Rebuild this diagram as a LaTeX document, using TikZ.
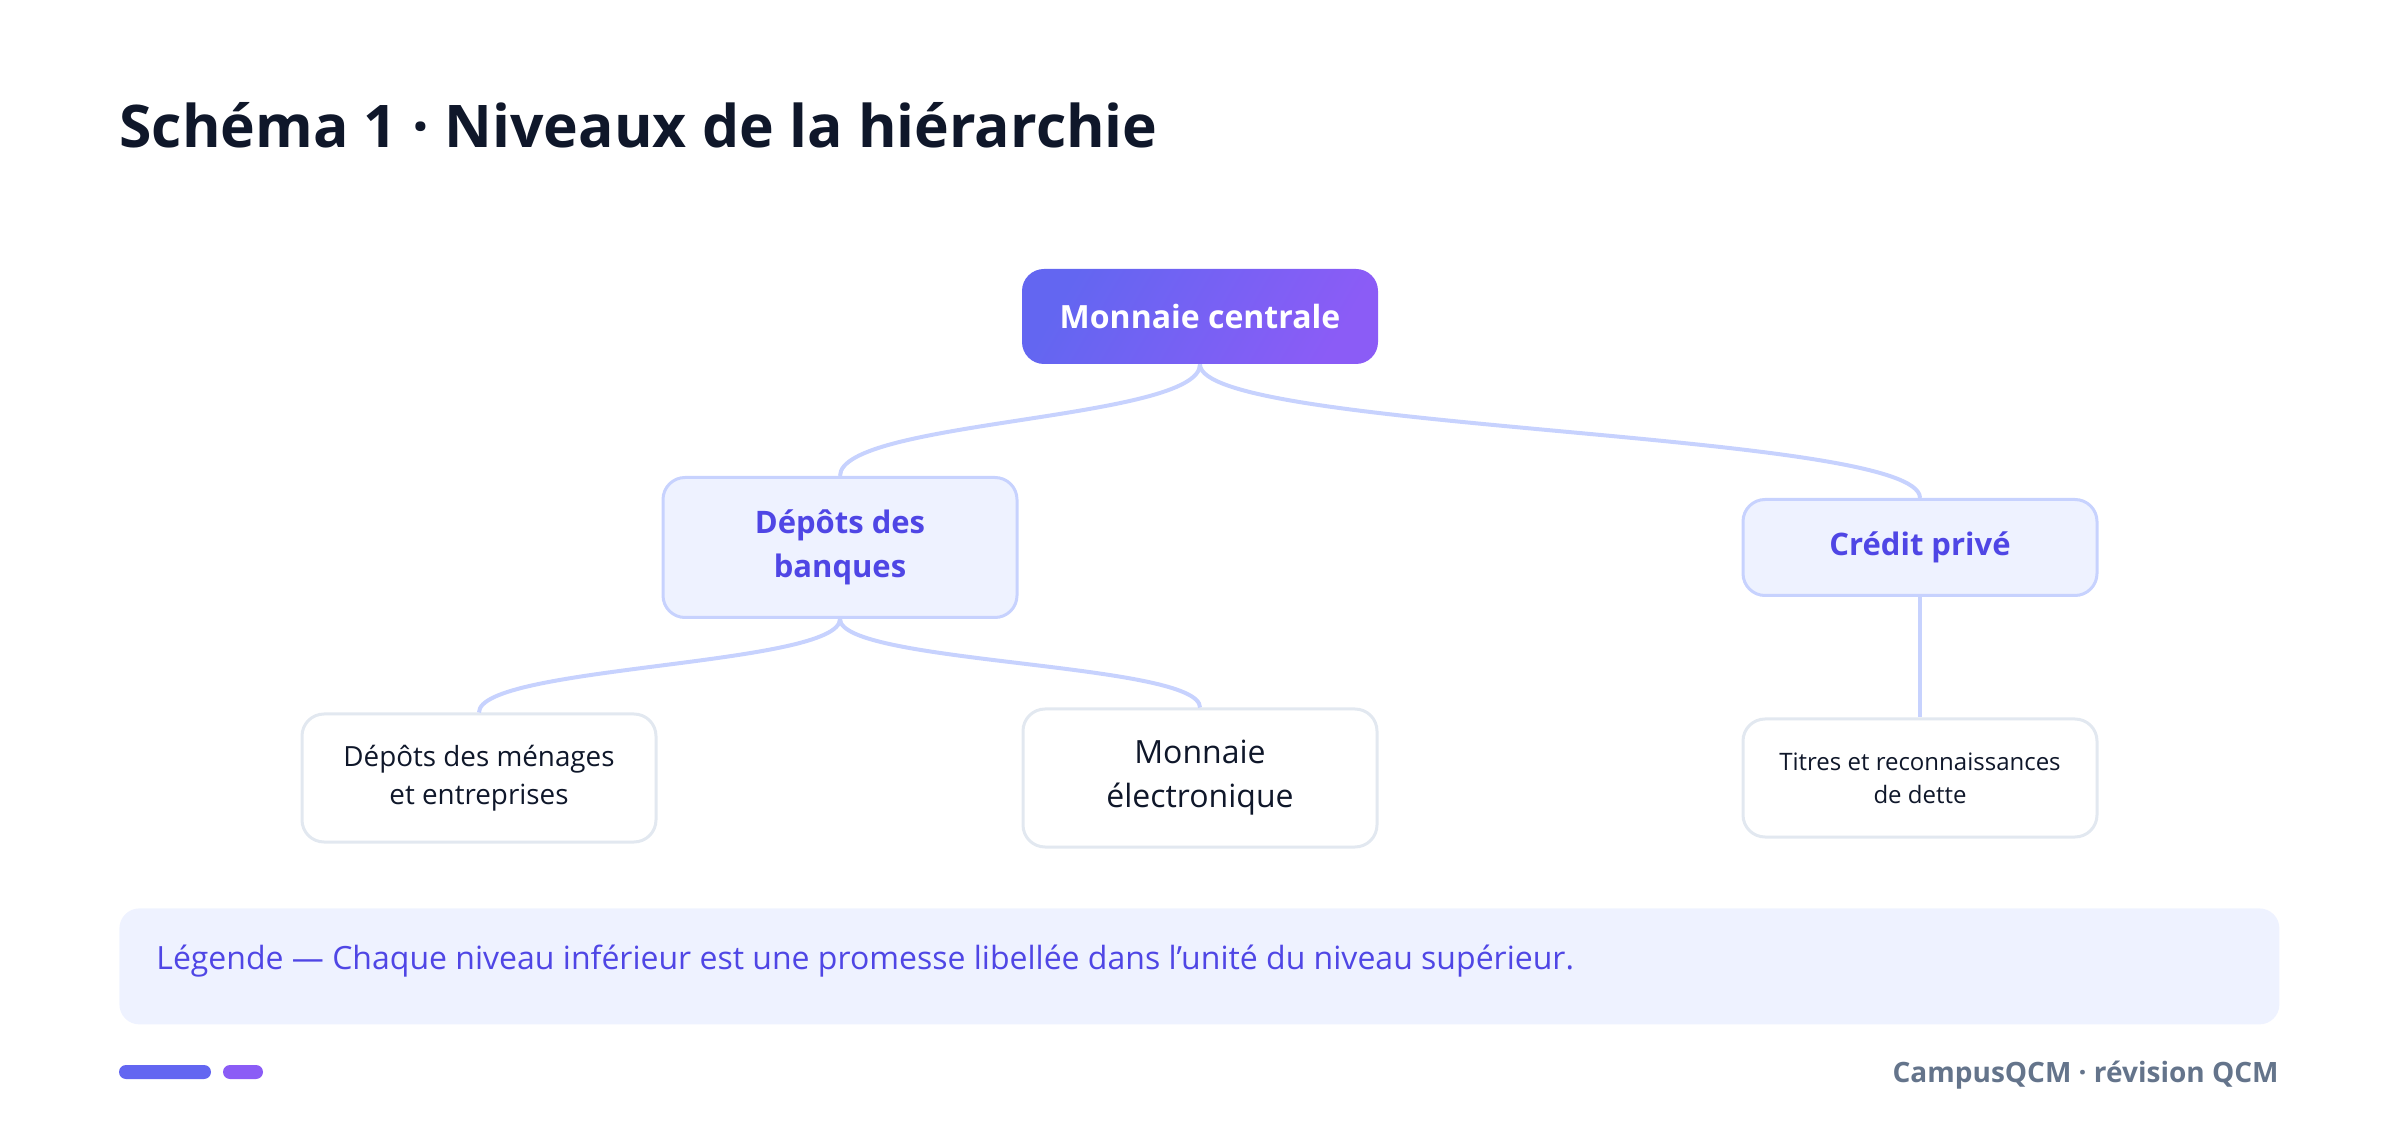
\documentclass[tikz,border=0pt]{standalone}
\usepackage{fontspec}
\setmainfont{Open Sans}
\definecolor{ink}{HTML}{0F172A}
\definecolor{indigo}{HTML}{4F46E5}
\definecolor{gradA}{HTML}{6366F1}
\definecolor{gradB}{HTML}{8B5CF6}
\definecolor{softfill}{HTML}{EEF2FF}
\definecolor{softline}{HTML}{C7D2FE}
\definecolor{leafline}{HTML}{E2E8F0}
\definecolor{slate}{HTML}{64748B}
\tikzset{
  rootbox/.style={rounded corners=11pt,left color=gradA,right color=gradB,shading angle=60,
    text=white,font=\fontsize{16}{20}\selectfont\bfseries,minimum width=178pt,minimum height=47.5pt},
  midbox/.style={draw=softline,line width=1.5pt,fill=softfill,rounded corners=11pt,text=indigo,
    align=center,font=\fontsize{15.5}{22}\selectfont\bfseries,minimum width=177pt,minimum height=48pt},
  leafbox/.style={draw=leafline,line width=1.5pt,fill=white,rounded corners=11pt,text=ink,
    align=center,minimum width=177pt},
  link/.style={draw=softline,line width=2pt}
}
\begin{document}
\begin{tikzpicture}[x=0.5pt,y=-0.5pt]
\useasboundingbox (0,0) rectangle (2400,1133);
\node[anchor=base west,inner sep=0,text=ink,font=\fontsize{29.4}{34}\selectfont\bfseries] (title) at (119,148) {Schéma 1 · Niveaux de la hiérarchie};
\node[rootbox] (root) at (1200,316.5) {Monnaie centrale};
\node[midbox,minimum height=70pt] (banques) at (840,547.5) {Dépôts des\\banques};
\node[midbox] (credit) at (1920,547.5) {Crédit privé};
\node[leafbox,minimum height=64pt,font=\fontsize{13.9}{19}\selectfont] (menages) at (479,778) {Dépôts des ménages\\et entreprises};
\node[leafbox,minimum height=69pt,font=\fontsize{16}{22}\selectfont] (electro) at (1200,778) {Monnaie\\électronique};
\node[leafbox,minimum height=59pt,font=\fontsize{12}{16.5}\selectfont] (titres) at (1920,778) {Titres et reconnaissances\\de dette};
\draw[link] (root.south) .. controls +(0,56) and +(0,-56) .. (banques.north);
\draw[link] (root.south) .. controls +(0,67) and +(0,-67) .. (credit.north);
\draw[link] (banques.south) .. controls +(0,47) and +(0,-47) .. (menages.north);
\draw[link] (banques.south) .. controls +(0,45) and +(0,-45) .. (electro.north);
\draw[link] (credit.south) -- (titres.north);
\node[anchor=north west,fill=softfill,rounded corners=10pt,inner sep=0,minimum width=1080pt,minimum height=58pt] (legend) at (119,908) {};
\node[anchor=base west,inner sep=0,text=indigo,font=\fontsize{16}{20}\selectfont] (legendtext) at (156,969) {Légende — Chaque niveau inférieur est une promesse libellée dans l'unité du niveau supérieur.};
\fill[gradA,rounded corners=3.5pt] (119,1065) rectangle (211,1079);
\fill[gradB,rounded corners=3.5pt] (223,1065) rectangle (263,1079);
\node[anchor=base east,inner sep=0,text=slate,font=\fontsize{14}{18}\selectfont\bfseries] (footer) at (2279,1082) {CampusQCM · révision QCM};
\end{tikzpicture}
\end{document}
